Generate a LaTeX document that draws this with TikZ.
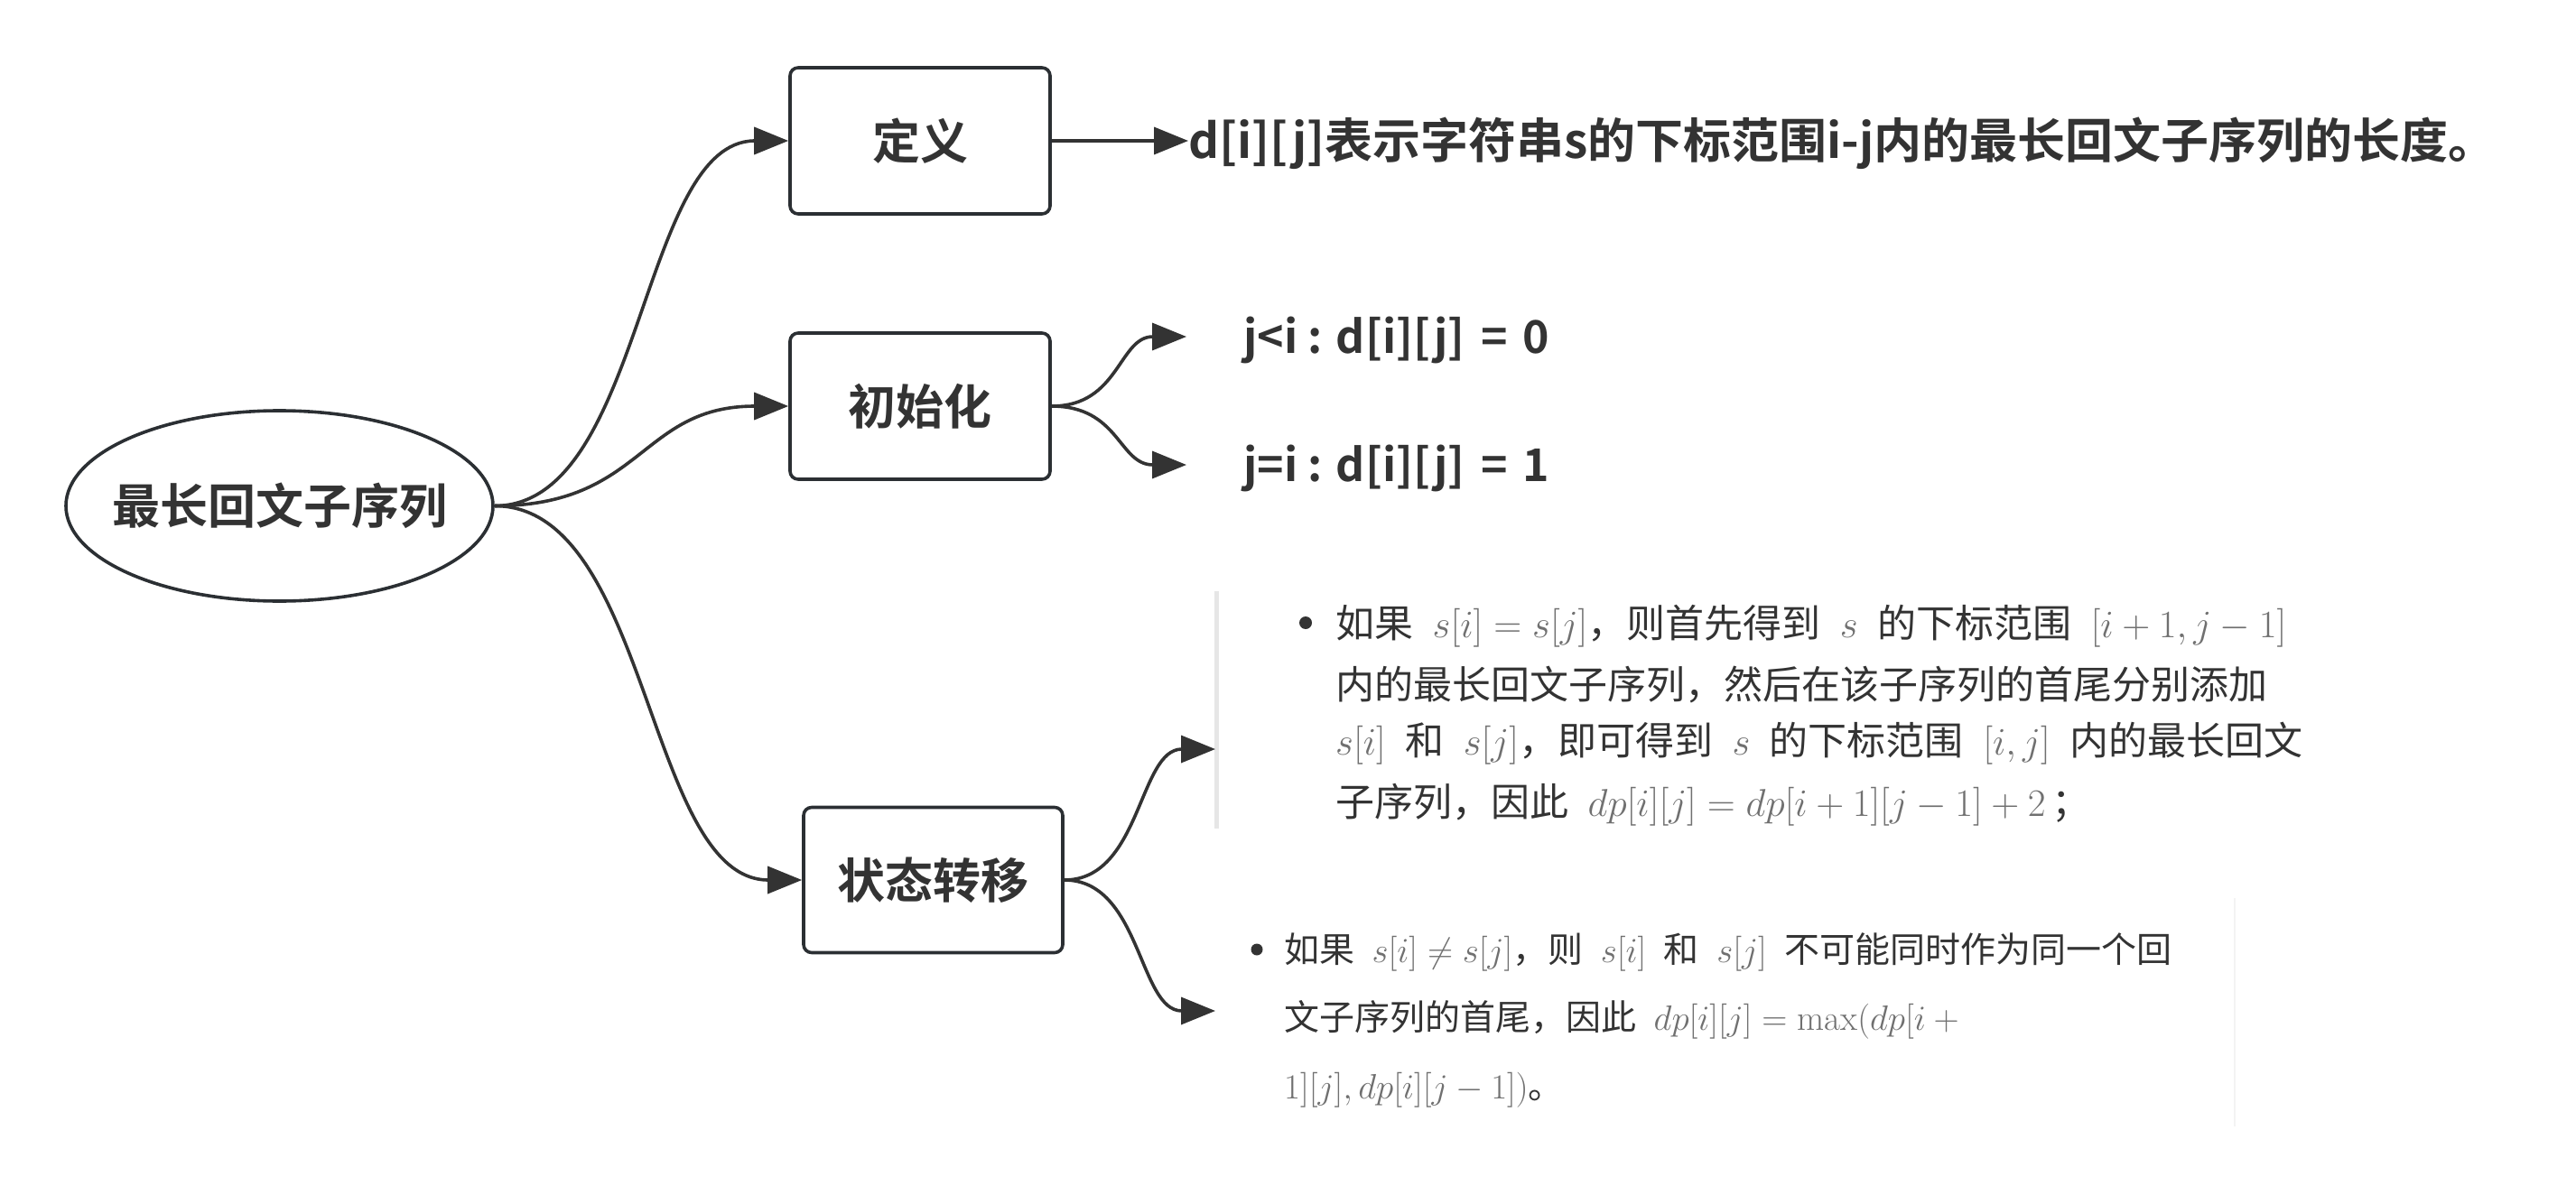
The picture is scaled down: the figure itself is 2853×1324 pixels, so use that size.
\RequirePackage{fix-cm}
\documentclass[tikz,border=0pt]{standalone}
\usepackage{fontspec}
\usetikzlibrary{arrows.meta,shapes.geometric}
\newfontfamily\cjk{Noto Sans CJK SC}
\newfontfamily\cjkb{Noto Sans CJK SC Bold}
\definecolor{ink}{HTML}{333333}
\definecolor{edge}{HTML}{2B2F33}
\definecolor{mathgray}{HTML}{707070}
\definecolor{cardline}{HTML}{E6E6E6}
\definecolor{cardline2}{HTML}{F3F3F3}
\newcommand{\gm}[1]{{\color{mathgray}$#1$}}
\begin{document}
\begin{tikzpicture}[x=1pt,y=-1pt,
  conn/.style={draw=ink, line width=3.6pt, -{Triangle[length=38pt,width=30pt]}},
  topic/.style={draw=edge, line width=3.6pt, rounded corners=9pt, fill=white,
    minimum width=288pt, minimum height=162pt, inner sep=0pt,
    font=\cjkb\fontsize{53}{60}\selectfont, text=ink},
  rootnode/.style={draw=edge, line width=3.6pt, ellipse, fill=white,
    minimum width=473pt, minimum height=211pt, inner sep=0pt},
  roottext/.style={inner sep=0pt, font=\cjkb\fontsize{53}{60}\selectfont, text=ink},
  deftext/.style={inner sep=0pt, font=\cjkb\fontsize{53}{60}\selectfont, text=ink},
  inittext/.style={inner sep=0pt, font=\cjkb\fontsize{50}{56}\selectfont, text=ink},
  cardA/.style={inner sep=0pt, font={\cjk\fontsize{43}{50}\selectfont\spaceskip=0.5em\relax}, text=ink},
  cardB/.style={inner sep=0pt, font={\cjk\fontsize{39}{46}\selectfont\spaceskip=0.5em\relax}, text=ink},
  dot/.style={circle, fill=ink, inner sep=0pt, minimum size=#1},
]
\useasboundingbox (0,0) rectangle (2853,1324);

% main nodes
\node[rootnode] (root) at (309.5,560.5) {};
\node[roottext] (roottxt) at (root.center) {最长回文子序列};
\node[topic] (def) at (1019,156) {定义};
\node[topic] (init) at (1019,450) {初始化};
\node[topic, minimum width=287pt, minimum height=161pt] (trans) at (1033.5,975) {状态转移};

% main connectors
\draw[conn] (root.east) .. controls +(165,0) and +(-165,0) .. (def.west);
\draw[conn] (root.east) .. controls +(165,0) and +(-165,0) .. (init.west);
\draw[conn] (root.east) .. controls +(172,0) and +(-172,0) .. (trans.west);

% definition
\node[deftext, anchor=base west] (deftxt) at (1316,176) {d[i][j]表示字符串s的下标范围i-j内的最长回文子序列的长度。};
\draw[conn] (def.east) -- (deftxt.west |- def.east);

% initialisation
\coordinate (i1tip) at (1314,373);
\coordinate (i2tip) at (1314,515);
\node[inittext, anchor=base west] (i1) at (1377,391) {j<i : d[i][j]\hspace{0.12em} =\hspace{0.12em} 0};
\node[inittext, anchor=base west] (i2) at (1377,533) {j=i : d[i][j]\hspace{0.12em} =\hspace{0.12em} 1};
\draw[conn] (init.east) .. controls +(75,0) and +(-75,0) .. (i1tip);
\draw[conn] (init.east) .. controls +(75,0) and +(-75,0) .. (i2tip);

% transition cards
\coordinate (c1top) at (1347,655);
\coordinate (c1bot) at (1347,918);
\draw[cardline, line width=5pt] (c1top) -- (c1bot);
\coordinate (c2top) at (2475,995);
\coordinate (c2bot) at (2475,1248);
\draw[cardline2, line width=2pt] (c2top) -- (c2bot);

\coordinate (t1tip) at (1346,830);
\coordinate (t2tip) at (1346,1120);
\draw[conn] (trans.east) .. controls +(85,0) and +(-85,0) .. (t1tip);
\draw[conn] (trans.east) .. controls +(85,0) and +(-85,0) .. (t2tip);

% card 1
\node[dot=14pt] (b1) at (1446,690) {};
\node[cardA, anchor=base west] (a1) at (1479,706) {如果 \gm{s[i]=s[j]}，则首先得到 \gm{s} 的下标范围 \gm{[i+1,j-1]}};
\node[cardA, anchor=base west] (a2) at (1479,774) {内的最长回文子序列，然后在该子序列的首尾分别添加};
\node[cardA, anchor=base west] (a3) at (1479,836) {\gm{s[i]} 和 \gm{s[j]}，即可得到 \gm{s} 的下标范围 \gm{[i,j]} 内的最长回文};
\node[cardA, anchor=base west] (a4) at (1479,904) {子序列，因此 \gm{dp[i][j]=dp[i+1][j-1]+2}\,；};

% card 2
\node[dot=13pt] (b2) at (1392,1052) {};
\node[cardB, anchor=base west] (e1) at (1422,1066) {如果 \gm{s[i]\neq s[j]}，则 \gm{s[i]} 和 \gm{s[j]} 不可能同时作为同一个回};
\node[cardB, anchor=base west] (e2) at (1422,1141) {文子序列的首尾，因此 \gm{dp[i][j]=\max(dp[i+{}}};
\node[cardB, anchor=base west] (e3) at (1422,1217) {\gm{1][j],dp[i][j-1])}。};
\end{tikzpicture}
\end{document}
